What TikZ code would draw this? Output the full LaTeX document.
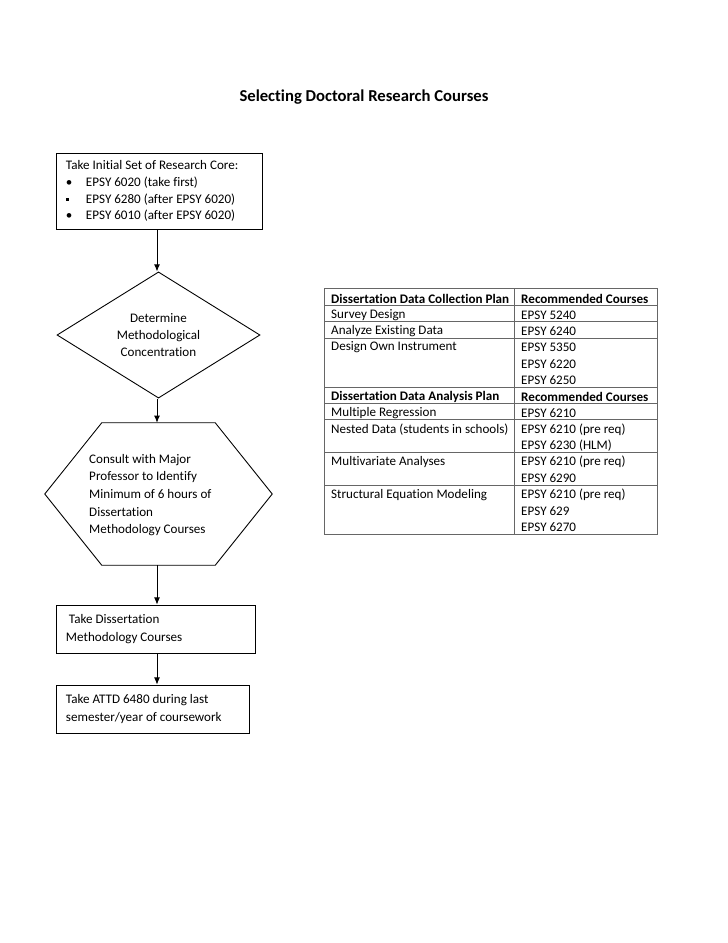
\documentclass[tikz,border=0pt]{standalone}
\usepackage{fontspec}
\setmainfont{Carlito}[Ligatures=NoCommon]
\usetikzlibrary{arrows.meta,shapes.geometric}
\newcommand{\pu}{0.8407pt}
\newcommand{\bul}{\makebox[16.8pt][l]{\textbullet}}
\newcommand{\sqbul}{\makebox[16.8pt][l]{\rule[1.8pt]{2.8pt}{2.8pt}}}
\tikzset{
  txt/.style={font=\fontsize{11}{14.5}\selectfont, inner sep=0pt},
  cell/.style={font=\fontsize{11}{13.5}\selectfont, inner sep=0pt, anchor=west},
  flowline/.style={line width=0.75pt},
  flowbox/.style={txt, draw, flowline, align=flush left, inner xsep=10*\pu, minimum height=48*\pu},
  tabline/.style={line width=0.6pt, black!60},
}
\begin{document}
\begin{tikzpicture}[x=0.8407pt, y=-0.8407pt]
  \useasboundingbox (0,0) rectangle (728,943);
  \node[txt, font=\fontsize{14}{16}\selectfont\bfseries] (title) at (364,97)
    {Selecting Doctoral Research Courses};
  \coordinate (spine) at (157,0);
  % flow chart
  \node[flowbox, text width=186*\pu, minimum height=76*\pu, font=\fontsize{11}{14.2}\selectfont]
    (core) at (159,191)
    {Take Initial Set of Research Core:\\
     \bul EPSY 6020 (take first)\\
     \sqbul EPSY 6280 (after EPSY 6020)\\
     \bul EPSY 6010 (after EPSY 6020)};
  \node[txt, draw, flowline, shape=diamond, align=center,
        minimum width=203*\pu, minimum height=115*\pu, font=\fontsize{11}{14.2}\selectfont]
    (conc) at (158.5,335) {Determine\\Methodological\\Concentration};
  \node[minimum width=227*\pu, minimum height=142*\pu, inner sep=0pt] (hex) at (158.5,494) {};
  \draw[flowline] ([xshift=57*\pu]hex.north west) -- ([xshift=-57*\pu]hex.north east)
    -- (hex.east) -- ([xshift=-57*\pu]hex.south east)
    -- ([xshift=57*\pu]hex.south west) -- (hex.west) -- cycle;
  \node[txt, align=left, anchor=west, font=\fontsize{11}{14.8}\selectfont] (consult) at (89,495)
    {Consult with Major\\Professor to Identify\\Minimum of 6 hours of\\Dissertation\\Methodology Courses};
  \node[flowbox, text width=179*\pu, font=\fontsize{11}{15}\selectfont] (take) at (155.5,629)
    {\hspace{2.5pt}Take Dissertation\\Methodology Courses};
  \node[flowbox, text width=173*\pu, font=\fontsize{11}{15}\selectfont] (attd) at (152.5,709)
    {Take ATTD 6480 during last\\semester/year of coursework};
  \begin{scope}[-{Latex[length=6pt,width=5pt]}, flowline]
    \draw (core.south -| spine) to (conc.north -| spine);
    \draw (conc.south -| spine) to (hex.north -| spine);
    \draw (hex.south -| spine) to (take.north -| spine);
    \draw (take.south -| spine) to (attd.north -| spine);
  \end{scope}
  % course table
  \draw[tabline] (324,288.8) rectangle (657,534.3);
  \draw[tabline] (514,288.8) -- (514,534.3);
  \foreach \y in {305.2,321.5,337.9,387,403.4,419.8,452.5,485.2}
    \draw[tabline] (324,\y) -- (657,\y);
  \foreach \r/\t in {0/\textbf{Dissertation Data Collection Plan}, 1/Survey Design,
      2/Analyze Existing Data, 3/Design Own Instrument,
      6/\textbf{Dissertation Data Analysis Plan}, 7/Multiple Regression,
      8/Nested Data (students in schools), 10/Multivariate Analyses,
      12/Structural Equation Modeling}
    \node[cell] (plan-\r) at (331,{298.5+16.36*\r}) {\t};
  \foreach \r/\t in {0/\textbf{Recommended Courses}, 1/EPSY 5240, 2/EPSY 6240,
      3/EPSY 5350, 4/EPSY 6220, 5/EPSY 6250, 6/\textbf{Recommended Courses},
      7/EPSY 6210, 8/EPSY 6210 (pre req), 9/EPSY 6230 (HLM),
      10/EPSY 6210 (pre req), 11/EPSY 6290, 12/EPSY 6210 (pre req),
      13/EPSY 629, 14/EPSY 6270}
    \node[cell] (course-\r) at (521,{298.5+16.36*\r}) {\t};
\end{tikzpicture}
\end{document}
